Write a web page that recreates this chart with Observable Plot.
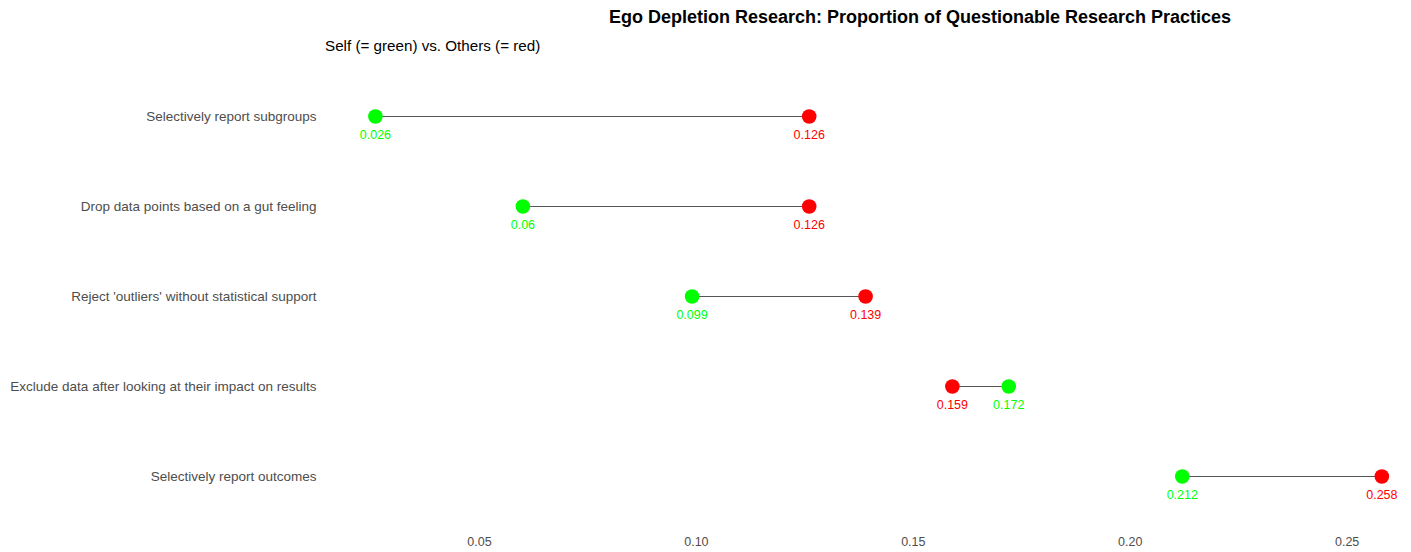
<!DOCTYPE html>
<html>
<head>
<meta charset="utf-8">
<script src="https://cdn.jsdelivr.net/npm/d3@7"></script>
<script src="https://cdn.jsdelivr.net/npm/@observablehq/plot@0.6"></script>
<style>
  body { margin: 0; background: #fff; font-family: "Liberation Sans", Arial, sans-serif; }
  #header { position: relative; width: 1411px; height: 62px; }
  #title { position: absolute; left: 920px; top: 7px; transform: translateX(-50%); font-weight: bold; font-size: 18px; color: #000; white-space: nowrap; }
  #subtitle { position: absolute; left: 325px; top: 37px; font-size: 15.2px; color: #000; white-space: nowrap; }
  #chart svg { display: block; }
</style>
</head>
<body>
<div id="header">
  <div id="title">Ego Depletion Research: Proportion of Questionable Research Practices</div>
  <div id="subtitle">Self (= green) vs. Others (= red)</div>
</div>
<div id="chart"></div>
<script>
const categories = [
  "Selectively report subgroups",
  "Drop data points based on a gut feeling",
  "Reject 'outliers' without statistical support",
  "Exclude data after looking at their impact on results",
  "Selectively report outcomes"
];
const selfValues = [0.026, 0.06, 0.099, 0.172, 0.212];
const otherValues = [0.126, 0.126, 0.139, 0.159, 0.258];
const xTicks = [0.05, 0.10, 0.15, 0.20, 0.25];

const rows = categories.map((c, i) => ({cat: c, self: selfValues[i], others: otherValues[i]}));
const pts = rows.flatMap(d => [
  {cat: d.cat, v: d.self, who: "self"},
  {cat: d.cat, v: d.others, who: "others"}
]);
const colorOf = w => w === "self" ? "#00ff00" : "#ff0000";

const chart = Plot.plot({
  width: 1411,
  height: 490,
  marginLeft: 325,
  marginRight: 11,
  marginTop: 0,
  marginBottom: 22,
  style: {fontFamily: "'Liberation Sans', Arial, sans-serif", background: "#fff"},
  x: {domain: [0.0145, 0.2623], ticks: xTicks, tickFormat: d3.format(".2f"), label: null},
  y: {type: "point", domain: categories, padding: 0.6, label: null},
  marks: [
    Plot.axisX({ticks: xTicks, tickFormat: d3.format(".2f"), tickSize: 0, tickPadding: 7, fontSize: 12.5, color: "#4d4d4d", label: null}),
    Plot.axisY({tickSize: 0, tickPadding: 9, fontSize: 13.5, color: "#4d4d4d", label: null}),
    Plot.link(rows, {x1: "self", x2: "others", y1: "cat", y2: "cat", stroke: "#555", strokeWidth: 1.1}),
    Plot.dot(pts, {x: "v", y: "cat", r: 7.3, fill: d => colorOf(d.who), stroke: "none"}),
    Plot.text(pts, {x: "v", y: "cat", text: d => String(+d.v), dy: 18, fontSize: 12.5, fill: d => colorOf(d.who)})
  ]
});
document.getElementById("chart").appendChild(chart);
</script>
</body>
</html>
